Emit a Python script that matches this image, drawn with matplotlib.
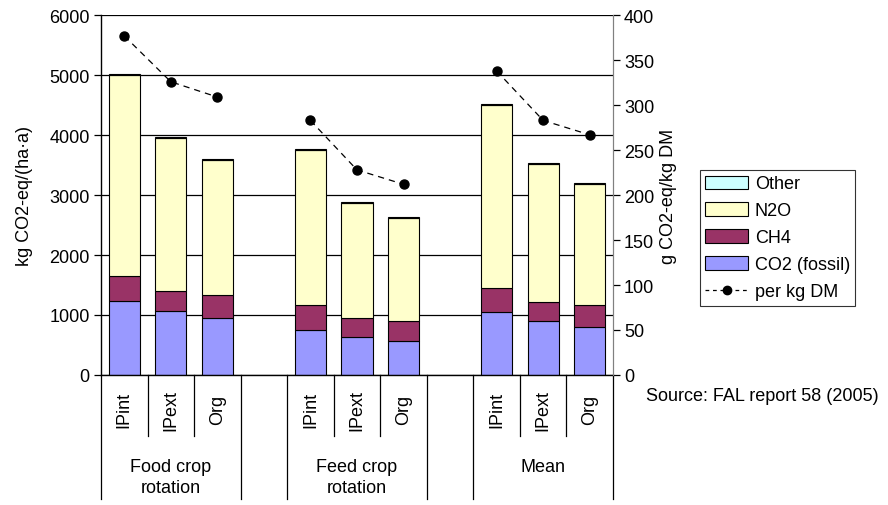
import matplotlib
matplotlib.use("Agg")
import matplotlib.pyplot as plt
import numpy as np
from matplotlib.lines import Line2D
from matplotlib.patches import Patch

plt.rcParams.update({"font.family": ["Liberation Sans", "DejaVu Sans"], "font.size": 13})

# 11 slots: three groups of three, with empty slots between them
categories = ["IPint", "IPext", "Org", "", "IPint", "IPext", "Org", "", "IPint", "IPext", "Org"]
groups = ["Food crop\nrotation", "Feed crop\nrotation", "Mean"]

co2 = [1233, 1067, 950, np.nan, 750, 633, 567, np.nan, 1050, 900, 800]
ch4 = [417, 333, 383, np.nan, 417, 317, 333, np.nan, 400, 317, 367]
n2o = [3350, 2555, 2250, np.nan, 2583, 1915, 1715, np.nan, 3050, 2300, 2020]
other = [20, 15, 15, np.nan, 15, 15, 15, np.nan, 20, 15, 20]
per_kg_dm = [377, 326, 309, np.nan, 283, 228, 212, np.nan, 338, 283, 267]

C_CO2 = "#9999ff"
C_CH4 = "#993366"
C_N2O = "#ffffcc"
C_OTHER = "#ccffff"

FS = 13

fig = plt.figure(figsize=(8.88, 5.06), dpi=100)
ax = fig.add_axes([0.1137, 0.257, 0.5766, 0.711])

x = np.arange(len(categories))
co2_a = np.array(co2, dtype=float)
ch4_a = np.array(ch4, dtype=float)
n2o_a = np.array(n2o, dtype=float)
oth_a = np.array(other, dtype=float)

w = 0.67
kw = dict(width=w, edgecolor="black", linewidth=0.8, zorder=3)
ax.bar(x, co2_a, color=C_CO2, **kw)
ax.bar(x, ch4_a, bottom=co2_a, color=C_CH4, **kw)
ax.bar(x, n2o_a, bottom=co2_a + ch4_a, color=C_N2O, **kw)
ax.bar(x, oth_a, bottom=co2_a + ch4_a + n2o_a, color=C_OTHER, **kw)

ax.set_xlim(-0.5, len(categories) - 0.5)
ax.set_ylim(0, 6000)
ax.set_yticks(range(0, 6001, 1000))
ax.yaxis.grid(True, color="black", linewidth=0.9, zorder=0)
ax.set_axisbelow(True)
ax.set_xticks([])
ax.tick_params(axis="y", direction="out", length=5, labelsize=FS, width=0.9, pad=3)
ax.set_ylabel("kg CO2-eq/(ha·a)", fontsize=FS, labelpad=12)
for s in ["top", "bottom"]:
    ax.spines[s].set_visible(False)
ax.spines["left"].set_linewidth(1.0)
ax.spines["right"].set_color("#808080")

ax2 = ax.twinx()
ax2.plot(x, per_kg_dm, color="black", linestyle=(0, (5, 4)), linewidth=0.9,
         marker="o", markersize=6.5, zorder=5)
ax2.set_ylim(0, 400)
ax2.set_yticks(range(0, 401, 50))
ax2.tick_params(axis="y", direction="out", length=5, labelsize=FS, width=0.9, pad=3)
ax2.set_ylabel("g CO2-eq/kg DM", fontsize=FS, labelpad=4)
for s in ["top", "bottom", "left"]:
    ax2.spines[s].set_visible(False)
ax2.spines["right"].set_color("#808080")

# category axis: base line, dividers and labels below the plot
tr = ax.get_xaxis_transform()
ax.plot([-0.5, len(categories) - 0.5], [0, 0], color="black", lw=1.0,
        transform=tr, clip_on=False, zorder=4)
long_lines = [-0.5, 2.5, 3.5, 6.5, 7.5, 10.5]
for b in np.arange(-0.5, len(categories), 1.0):
    y_end = -0.345 if b in long_lines else -0.17
    ax.plot([b, b], [0, y_end], color="black", lw=0.9, transform=tr, clip_on=False)
for i, c in enumerate(categories):
    if c:
        ax.text(i, -0.095, c, rotation=90, ha="center", va="center",
                fontsize=FS, transform=tr)
for g, name in enumerate(groups):
    ax.text(4 * g + 1, -0.23, name, ha="center", va="top", fontsize=FS,
            linespacing=1.35, transform=tr)

handles = [
    Patch(facecolor=C_OTHER, edgecolor="black", linewidth=0.8, label="Other"),
    Patch(facecolor=C_N2O, edgecolor="black", linewidth=0.8, label="N2O"),
    Patch(facecolor=C_CH4, edgecolor="black", linewidth=0.8, label="CH4"),
    Patch(facecolor=C_CO2, edgecolor="black", linewidth=0.8, label="CO2 (fossil)"),
    Line2D([0], [0], color="black", linestyle=(0, (3, 3)), lw=0.9,
           marker="o", markersize=6, label="per kg DM"),
]
leg = fig.legend(handles=handles, loc="upper left", bbox_to_anchor=(0.788, 0.662),
                 fontsize=FS, frameon=True, fancybox=False, edgecolor="black",
                 borderpad=0.3, labelspacing=0.55, handlelength=2.4,
                 handleheight=0.75, handletextpad=0.35, borderaxespad=0)
leg.get_frame().set_linewidth(0.8)

fig.text(0.727, 0.217, "Source: FAL report 58 (2005)", fontsize=FS, ha="left", va="center")

fig.savefig("out.png", dpi=100, facecolor="white")
